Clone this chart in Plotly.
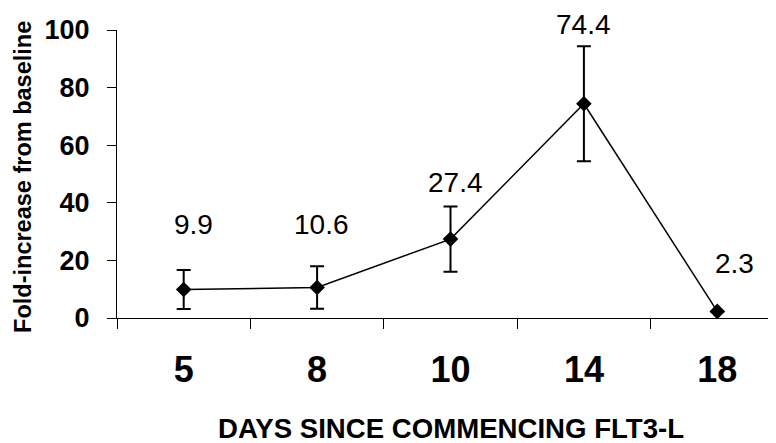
import plotly.graph_objects as go

# ---- data ----
days = ["5", "8", "10", "14", "18"]
fold_increase = [9.9, 10.6, 27.4, 74.4, 2.3]
error = [6.8, 7.4, 11.3, 20.0, 0.0]
value_labels = ["9.9", "10.6", "27.4", "74.4", "2.3"]
y_ticks = [0, 20, 40, 60, 80, 100]

# label placement (styling only, in y-axis units)
label_y = [32.6, 32.6, 46.9, 102.0, 18.8]
label_xshift = [10, 4, 5, 0, 17]

FONT = "Liberation Sans, Arial, sans-serif"
Y_MAX = 100

fig = go.Figure()
fig.add_trace(go.Scatter(
    x=days, y=fold_increase,
    mode="lines+markers",
    line=dict(color="black", width=1.5),
    marker=dict(symbol="diamond", size=12, color="black"),
    error_y=dict(type="data", array=error, visible=True,
                 color="black", thickness=2, width=7),
    showlegend=False,
    cliponaxis=False,
))

for i, (lab, ly, xs) in enumerate(zip(value_labels, label_y, label_xshift)):
    fig.add_annotation(x=i, y=ly / Y_MAX, xref="x", yref="paper", text=lab,
                       showarrow=False, xshift=xs,
                       xanchor="center", yanchor="middle",
                       font=dict(family=FONT, size=28, color="black"))

# axis titles as annotations
fig.add_annotation(x=2, y=-0.3854, xref="x", yref="paper",
                   text="<b>DAYS SINCE COMMENCING FLT3-L</b>", showarrow=False,
                   xanchor="center", yanchor="middle",
                   font=dict(family=FONT, size=27.6, color="black"))
fig.add_annotation(x=-0.1426, y=0.49, xref="paper", yref="paper",
                   text="<b>Fold-increase from baseline</b>", showarrow=False,
                   textangle=-90, xanchor="center", yanchor="middle",
                   font=dict(family=FONT, size=23.5, color="black"))

fig.update_xaxes(
    type="category", range=[-0.5, 4.44],
    tickson="boundaries", ticks="outside", ticklen=10, tickcolor="black",
    showline=True, linecolor="black", linewidth=1,
    showgrid=False, zeroline=False,
    tickfont=dict(family=FONT, size=36, color="black", weight="bold"),
    ticklabelstandoff=20,
)
fig.update_yaxes(
    range=[0, Y_MAX], tickvals=y_ticks,
    ticks="outside", ticklen=9, tickcolor="black",
    showline=True, linecolor="black", linewidth=1,
    showgrid=False, zeroline=False,
    tickfont=dict(family=FONT, size=27, color="black", weight="bold"),
    ticklabelstandoff=12,
)

# the page body adds an 8px offset; size the figure to fit the window
fig.update_layout(
    width=768, height=435,
    margin=dict(l=109, r=0, t=22, b=125),
    paper_bgcolor="white", plot_bgcolor="white",
)

fig.write_html("out.html")
